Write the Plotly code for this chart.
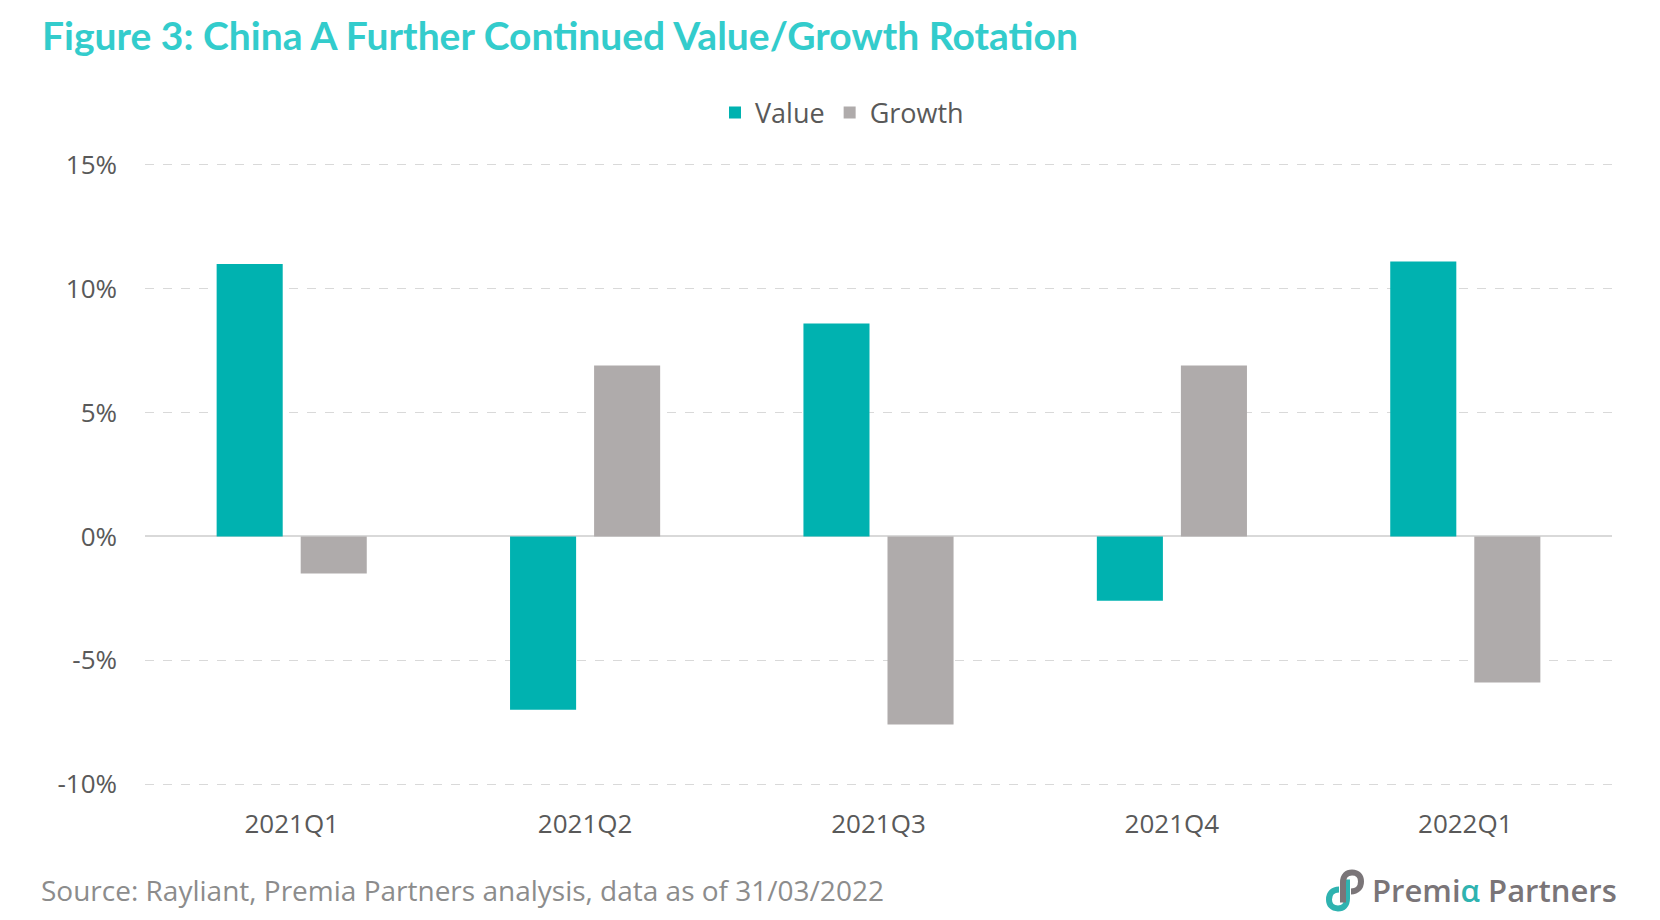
import plotly.graph_objects as go

categories = ["2021Q1", "2021Q2", "2021Q3", "2021Q4", "2022Q1"]
value_pct = [11.0, -7.0, 8.6, -2.6, 11.1]
growth_pct = [-1.5, 6.9, -7.6, 6.9, -5.9]
y_ticks = [-10, -5, 0, 5, 10, 15]
y_tick_labels = ["-10%", "-5%", "0%", "5%", "10%", "15%"]

W, H = 1660, 920
L, R, T, B = 145, 1612, 160, 789.5

def px(x):
    return (x - L) / (R - L)

def py(y):
    return (B - y) / (B - T)

TEAL = "#00B2B0"
GREY = "#AFABAB"
TXT = "#595959"

fig = go.Figure()
fig.add_trace(go.Bar(name="Value", x=categories, y=value_pct, marker_color=TEAL,
                     marker_line_width=0))
fig.add_trace(go.Bar(name="Growth", x=categories, y=growth_pct, marker_color=GREY,
                     marker_line_width=0))

fig.update_layout(
    width=W, height=H,
    margin=dict(l=L, r=W - R, t=T, b=H - B, pad=0),
    paper_bgcolor="white", plot_bgcolor="white",
    barmode="group", bargap=0.427, bargroupgap=0.214,
    font=dict(family="Open Sans, sans-serif", color=TXT),
    showlegend=True,
    legend=dict(orientation="h", x=px(715), xanchor="left", y=py(113), yanchor="middle",
                font=dict(size=27, color=TXT), itemwidth=30, bgcolor="rgba(0,0,0,0)",
                traceorder="normal"),
    xaxis=dict(showgrid=False, showline=False, ticks="", tickfont=dict(size=26, color=TXT),
               ticklabelstandoff=17, fixedrange=True),
    yaxis=dict(range=[-10.2, 15.2], tickvals=y_ticks, ticktext=y_tick_labels,
               showgrid=True, gridcolor="#D9D9D9", griddash="dash", gridwidth=1,
               zeroline=True, zerolinecolor="#D9D9D9", zerolinewidth=1.5,
               showline=False, ticks="", tickfont=dict(size=26, color=TXT),
               ticklabelstandoff=27, fixedrange=True),
)

annotations = [
    dict(text="<b>Figure 3: China A Further Continued Value/Growth Rotation</b>",
         x=px(40), y=py(35), xref="paper", yref="paper", xanchor="left", yanchor="middle",
         showarrow=False, font=dict(family="Lato, sans-serif", size=39, color="#33CCCC")),
    dict(text="Source: Rayliant, Premia Partners analysis, data as of 31/03/2022",
         x=px(39), y=py(891), xref="paper", yref="paper", xanchor="left", yanchor="middle",
         showarrow=False, font=dict(family="Open Sans, sans-serif", size=28, color="#8C8C8C")),
    dict(text="Premi<span style='color:#2FB3B0'>α</span> Partners",
         x=px(1619), y=py(891), xref="paper", yref="paper", xanchor="right", yanchor="middle",
         showarrow=False, font=dict(family="Open Sans, sans-serif", size=31, color="#7A7578",
                                    weight=600)),
]
fig.update_layout(annotations=annotations)

def P(x, y):
    return f"{px(x):.5f},{py(y):.5f}"

grey_path = ("M" + P(1343, 903) + " L" + P(1343, 883) +
             " C" + P(1343, 876) + " " + P(1347, 873) + " " + P(1352, 873) +
             " C" + P(1358, 873) + " " + P(1361, 877) + " " + P(1361, 882) +
             " C" + P(1361, 888) + " " + P(1357, 892) + " " + P(1351, 892))
teal_path = ("M" + P(1347, 880) + " L" + P(1347, 899) +
             " C" + P(1347, 906) + " " + P(1343, 909) + " " + P(1338, 909) +
             " C" + P(1332, 909) + " " + P(1329, 905) + " " + P(1329, 900) +
             " C" + P(1329, 894) + " " + P(1333, 890) + " " + P(1339, 890))
fig.update_layout(shapes=[
    dict(type="path", path=teal_path, xref="paper", yref="paper",
         line=dict(color="#2FB3B0", width=6)),
    dict(type="path", path=grey_path, xref="paper", yref="paper",
         line=dict(color="#7A7578", width=6)),
])

fig.write_html("out.html")
